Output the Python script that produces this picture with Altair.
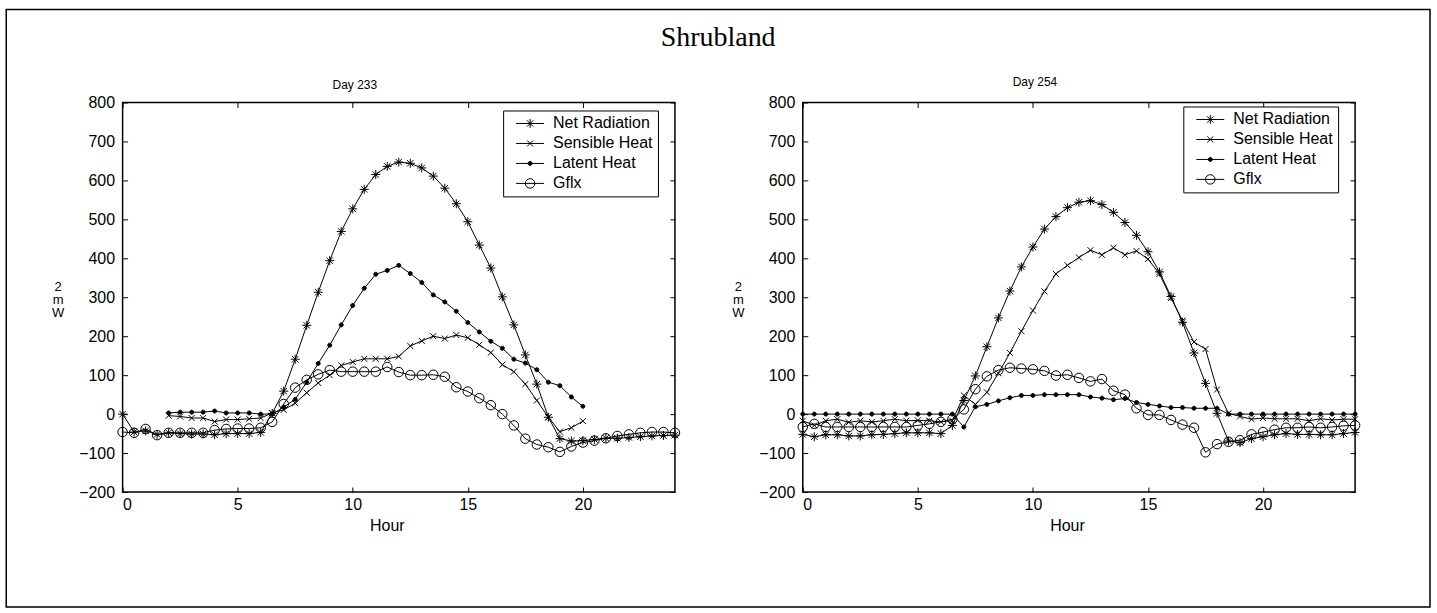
import altair as alt
import pandas as pd

HOURS = [i * 0.5 for i in range(49)]
PART_HOURS = HOURS[4:41]  # 2.0 .. 20.0
SERIES = ["Net Radiation", "Sensible Heat", "Latent Heat", "Gflx"]

# Day 233
D233_NET = [0, -46, -43, -52, -48, -50, -51, -51, -53, -50, -50, -50, -47, 2, 59, 141, 228, 313,
            394, 469, 527, 577, 615, 636, 647, 644, 632, 611, 580, 540, 494, 434, 375, 301, 229,
            152, 77, -8, -63, -69, -68, -65, -62, -62, -60, -58, -56, -55, -54]
D233_SENS = [-4, -6, -10, -10, -19, -14, -14, -12, -10, 3, 11, 28, 55, 80, 100, 125, 134, 142, 142,
             142, 148, 175, 188, 200, 194, 203, 196, 178, 158, 127, 109, 77, 35, -8, -45, -35, -18]
D233_LAT = [3, 5, 5, 5, 8, 3, 3, 3, 0, 0, 18, 38, 82, 130, 177, 229, 279, 323, 359, 369, 382, 361,
            338, 306, 288, 264, 235, 211, 187, 169, 141, 131, 114, 82, 73, 44, 20]
D233_GFLX = [-46, -48, -38, -54, -48, -48, -48, -48, -41, -38, -37, -37, -35, -20, 26, 68, 88, 102,
             113, 109, 109, 109, 109, 121, 108, 100, 100, 101, 96, 69, 58, 41, 23, 0, -29, -63, -78,
             -85, -97, -83, -73, -68, -62, -56, -52, -48, -46, -46, -48]

# Day 254
D254_NET = [-52, -58, -53, -53, -56, -56, -53, -52, -50, -48, -48, -48, -50, -29, 35, 98, 173, 247,
            316, 378, 429, 475, 507, 530, 544, 548, 538, 518, 492, 459, 417, 365, 302, 236, 157, 79,
            2, -69, -73, -63, -58, -53, -50, -52, -52, -53, -53, -50, -47]
D254_SENS = [-17, -29, -17, -13, -21, -17, -20, -17, -13, -17, -16, -17, -20, -17, 48, 25, 56, 105,
             157, 213, 266, 315, 360, 382, 402, 421, 409, 427, 409, 419, 398, 360, 298, 240, 185, 167,
             63, 2, -6, -13, -10, -12, -12, -12, -17, -12, -15, -13, -13]
D254_LAT = [0, 0, 0, 0, 0, 0, 0, 0, 0, 0, 0, 0, 0, 0, -33, 19, 25, 34, 42, 48, 48, 50, 50, 50, 50, 44,
            41, 37, 40, 30, 25, 21, 17, 17, 15, 15, 15, 0, 0, 0, 0, 0, 0, 0, 0, 0, 0, 0, 0]
D254_GFLX = [-33, -25, -33, -33, -33, -33, -33, -33, -33, -33, -29, -25, -20, -13, 12, 64, 97, 113,
             119, 117, 115, 111, 99, 101, 93, 84, 90, 60, 50, 15, -2, -2, -15, -27, -35, -98, -77,
             -71, -67, -52, -46, -40, -35, -35, -33, -35, -33, -30, -29]

Y_TICKS = list(range(-200, 801, 100))
X_TICKS = [0, 5, 10, 15, 20]

MARK_PATHS = [
    "M-0.9,0H0.9M0,-0.9V0.9M-0.64,-0.64L0.64,0.64M-0.64,0.64L0.64,-0.64",
    "M-0.6,-0.6L0.6,0.6M-0.6,0.6L0.6,-0.6",
    "M0.4,0A0.4,0.4,0,1,1,-0.4,0A0.4,0.4,0,1,1,0.4,0Z",
    "M0.95,0A0.95,0.95,0,1,1,-0.95,0A0.95,0.95,0,1,1,0.95,0Z",
]
LEGEND_PATHS = ["M-2.8,0H2.8" + p for p in MARK_PATHS]
FILLS = ["transparent", "transparent", "black", "transparent"]
STROKES = ["black", "black", "black", "black"]

W, H = 553, 390
FONT = "Liberation Sans"


def make_df(net, sens, lat, gflx, sens_hours, lat_hours):
    rows = []
    for h, v in zip(HOURS, net):
        rows.append({"hour": h, "value": v, "series": SERIES[0]})
    for h, v in zip(sens_hours, sens):
        rows.append({"hour": h, "value": v, "series": SERIES[1]})
    for h, v in zip(lat_hours, lat):
        rows.append({"hour": h, "value": v, "series": SERIES[2]})
    for h, v in zip(HOURS, gflx):
        rows.append({"hour": h, "value": v, "series": SERIES[3]})
    return pd.DataFrame(rows)


def panel(df, title, title_offset, legend_y, with_frame, legend_extra):
    xs = alt.Scale(domain=[0, 24], nice=False, zero=False)
    ys = alt.Scale(domain=[-200, 800], nice=False, zero=False)
    base = alt.Chart(df)

    lines = base.mark_line(color="black", strokeWidth=1).encode(
        x=alt.X("hour:Q", scale=xs, axis=alt.Axis(
            orient="bottom", values=X_TICKS, ticks=False, domain=False, grid=False,
            labelPadding=4, title="Hour", titlePadding=6, titleX=W / 2 - 12)),
        y=alt.Y("value:Q", scale=ys, axis=alt.Axis(
            orient="left", values=Y_TICKS, ticks=False, domain=False, grid=False,
            labelPadding=8, title=["2", "m", "W"], titleAngle=0, titleX=-65, titleY=184,
            titleAlign="center", titleBaseline="middle", titleFontSize=13, titleLineHeight=13)),
        detail="series:N",
    )

    points = base.mark_point(filled=False, color="black", strokeWidth=1, size=100, opacity=1).encode(
        x=alt.X("hour:Q", scale=xs, axis=alt.Axis(
            orient="bottom", offset=-H, values=X_TICKS, labels=False, domain=False, grid=False,
            ticks=True, tickSize=5, title=None)),
        y=alt.Y("value:Q", scale=ys, axis=alt.Axis(
            orient="left", offset=-W, values=Y_TICKS, labels=False, domain=False, grid=False,
            ticks=True, tickSize=5, title=None)),
        shape=alt.Shape("series:N", scale=alt.Scale(domain=SERIES, range=MARK_PATHS), legend=None),
        fill=alt.Fill("series:N", scale=alt.Scale(domain=SERIES, range=FILLS), legend=None),
    )

    leg = alt.Legend(title=None, orient="none", legendX=381, legendY=legend_y, strokeColor="black",
                     fillColor="white", padding=5, labelFont=FONT, labelFontSize=16,
                     labelColor="black", symbolSize=100, symbolStrokeWidth=1,
                     symbolOffset=14, labelOffset=15, rowPadding=4, **legend_extra)
    legend_layer = base.transform_filter("false").mark_point(
        filled=False, strokeWidth=1, size=100, opacity=1).encode(
        x=alt.X("hour:Q", scale=xs, axis=alt.Axis(
            orient="top", offset=-H, values=X_TICKS, labels=False, domain=False, grid=False,
            ticks=True, tickSize=5, title=None)),
        y=alt.Y("value:Q", scale=ys, axis=alt.Axis(
            orient="right", offset=-W, values=Y_TICKS, labels=False, domain=False, grid=False,
            ticks=True, tickSize=5, title=None)),
        shape=alt.Shape("series:N", scale=alt.Scale(domain=SERIES, range=LEGEND_PATHS), legend=leg),
        fill=alt.Fill("series:N", scale=alt.Scale(domain=SERIES, range=FILLS), legend=leg),
        stroke=alt.Stroke("series:N", scale=alt.Scale(domain=SERIES, range=STROKES), legend=leg),
    )

    layers = [lines, points, legend_layer]
    if with_frame:
        frame = alt.Chart(alt.Data(values=[{}])).mark_rect(
            fill="white", fillOpacity=0, stroke="black", strokeWidth=1.5).encode(
            x=alt.value(-116.5), x2=alt.value(1309), y=alt.value(-93), y2=alt.value(505))
        layers.append(frame)

    return alt.layer(*layers).resolve_scale(
        shape="independent", fill="independent", stroke="independent").resolve_axis(
        x="independent", y="independent").properties(
        width=W, height=H,
        title=alt.TitleParams(title, frame="group", anchor="middle", offset=title_offset, dx=-44,
                              font=FONT, fontSize=12, fontWeight="normal", color="black"))


df233 = make_df(D233_NET, D233_SENS, D233_LAT, D233_GFLX, PART_HOURS, PART_HOURS)
df254 = make_df(D254_NET, D254_SENS, D254_LAT, D254_GFLX, HOURS, HOURS)


def build(legend_extra):
    left = panel(df233, "Day 233", -82.75, 8, True, legend_extra)
    right = panel(df254, "Day 254", 5.5, 4, False, legend_extra)
    c = alt.hconcat(left, right, spacing=128, bounds="flush").resolve_legend(
        shape="independent", fill="independent", stroke="independent").properties(
        title=alt.TitleParams("Shrubland", font="Liberation Serif", fontSize=28,
                              fontWeight="normal", anchor="middle", offset=-44, color="black"),
        padding={"left": 4.75, "top": 7.25, "right": 5, "bottom": 5},
        background="white",
    ).configure_view(stroke="black", strokeWidth=1.5).configure_axis(
        labelFont=FONT, labelFontSize=16, labelColor="black", titleFont=FONT, titleFontSize=16,
        titleFontWeight="normal", titleColor="black", tickColor="black", tickWidth=1,
    )
    c.to_dict()
    return c


try:
    chart = build({"strokeWidth": 1.5})
except Exception:
    chart = build({})

chart.save("out.html", embed_options={"renderer": "svg", "actions": False})
